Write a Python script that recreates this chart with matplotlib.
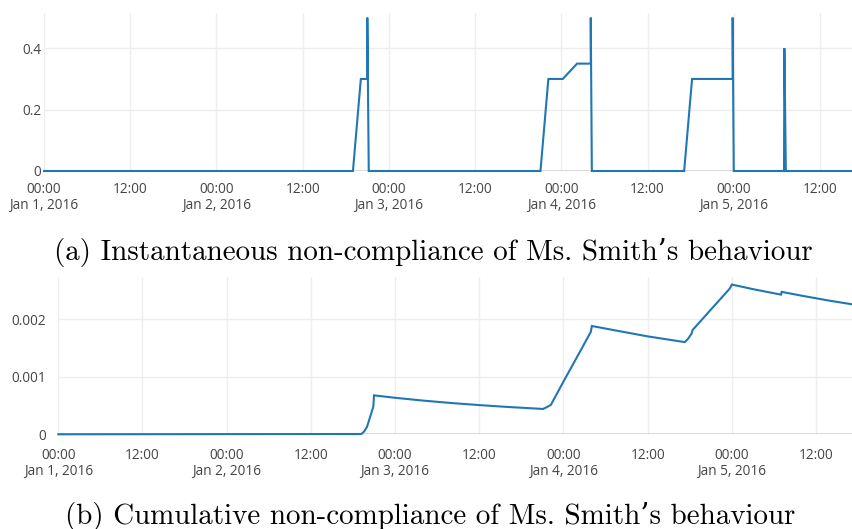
import matplotlib
matplotlib.use("Agg")
import matplotlib.pyplot as plt
import pandas as pd

# ---- data ----
inst_times = ["2016-01-01 00:00", "2016-01-02 19:00", "2016-01-02 20:06", "2016-01-02 21:00",
              "2016-01-02 21:00", "2016-01-02 21:12", "2016-01-03 21:06", "2016-01-03 22:12",
              "2016-01-04 00:12", "2016-01-04 02:12", "2016-01-04 04:06", "2016-01-04 04:06",
              "2016-01-04 04:15", "2016-01-04 17:06", "2016-01-04 18:12", "2016-01-04 23:51",
              "2016-01-04 23:51", "2016-01-05 00:00", "2016-01-05 07:00", "2016-01-05 07:03",
              "2016-01-05 07:15", "2016-01-05 17:30"]
inst_values = [0, 0, 0.3, 0.3, 0.5, 0, 0, 0.3, 0.3, 0.35, 0.35, 0.5, 0, 0, 0.3, 0.3,
               0.5, 0, 0, 0.4, 0, 0]

cum_times = ["2016-01-01 00:00", "2016-01-02 00:00", "2016-01-02 19:12", "2016-01-02 19:36",
             "2016-01-02 20:00", "2016-01-02 20:54", "2016-01-02 21:00", "2016-01-03 00:00",
             "2016-01-03 04:00", "2016-01-03 08:00", "2016-01-03 12:00", "2016-01-03 16:00",
             "2016-01-03 21:06", "2016-01-03 21:36", "2016-01-03 22:12", "2016-01-04 00:12",
             "2016-01-04 02:12", "2016-01-04 03:54", "2016-01-04 04:03", "2016-01-04 08:00",
             "2016-01-04 12:00", "2016-01-04 16:00", "2016-01-04 17:18", "2016-01-04 17:48",
             "2016-01-04 18:16", "2016-01-04 18:24", "2016-01-04 23:42", "2016-01-05 00:00",
             "2016-01-05 03:00", "2016-01-05 07:00", "2016-01-05 07:06", "2016-01-05 10:00",
             "2016-01-05 14:00", "2016-01-05 17:30"]
cum_values = [0, 0.000003, 0.000005, 0.00005, 0.00013, 0.00048, 0.000676, 0.000634,
              0.000585, 0.000543, 0.000507, 0.000475, 0.00044, 0.00047, 0.00051, 0.00096,
              0.0014, 0.00178, 0.00188, 0.00179, 0.0017, 0.001625, 0.0016, 0.001665,
              0.00175, 0.00181, 0.00253, 0.0026, 0.00252, 0.002425, 0.002473, 0.002405,
              0.002318, 0.00225]

x_ticks = ["2016-01-01 00:00", "2016-01-01 12:00", "2016-01-02 00:00", "2016-01-02 12:00",
           "2016-01-03 00:00", "2016-01-03 12:00", "2016-01-04 00:00", "2016-01-04 12:00",
           "2016-01-05 00:00", "2016-01-05 12:00"]
x_tick_labels = ["00:00\nJan 1, 2016", "12:00", "00:00\nJan 2, 2016", "12:00",
                 "00:00\nJan 3, 2016", "12:00", "00:00\nJan 4, 2016", "12:00",
                 "00:00\nJan 5, 2016", "12:00"]
inst_yticks = [0, 0.2, 0.4]
inst_ylabels = ["0", "0.2", "0.4"]
cum_yticks = [0, 0.001, 0.002]
cum_ylabels = ["0", "0.001", "0.002"]

captions = ["(a) Instantaneous non-compliance of Ms. Smith\u2019s behaviour",
            "(b) Cumulative non-compliance of Ms. Smith\u2019s behaviour"]

LINE = "#1f77b4"
GRID = "#eeeeee"
TXT = "#444444"
TICKFS = 9.8

fig = plt.figure(figsize=(8.53, 5.29), dpi=100)
ax1 = fig.add_axes([44 / 853, (529 - 171) / 529, 1 - 44 / 853, (171 - 13) / 529])
ax2 = fig.add_axes([58.3 / 853, (529 - 434.3) / 529, 1 - 58.3 / 853, (434.3 - 276.7) / 529])

def style(ax, times, vals, yt, yl, ylim, xend, ypad, xpad):
    t = pd.to_datetime(times)
    xt = pd.to_datetime(x_ticks)
    for x in xt:
        ax.axvline(x, color=GRID, lw=1, zorder=0)
    for y in yt[1:]:
        ax.axhline(y, color=GRID, lw=1, zorder=0)
    ax.axhline(0, color=TXT, lw=1, zorder=1)
    ax.plot(t, vals, color=LINE, lw=1.5, zorder=3, clip_on=False, solid_joinstyle="miter")
    ax.set_xlim(pd.Timestamp("2016-01-01 00:00"), pd.Timestamp(xend))
    ax.set_ylim(*ylim)
    ax.set_xticks(xt)
    ax.set_xticklabels(x_tick_labels, fontsize=TICKFS, color=TXT, family="Open Sans",
                       linespacing=1.05, va="top")
    ax.set_yticks(yt)
    ax.set_yticklabels(yl, fontsize=TICKFS, color=TXT, family="Open Sans")
    ax.tick_params(axis="x", length=0, pad=xpad)
    ax.tick_params(axis="y", length=0, pad=ypad)
    for s in ax.spines.values():
        s.set_visible(False)
    ax.set_facecolor("none")

style(ax1, inst_times, inst_values, inst_yticks, inst_ylabels, (0, 0.515),
      "2016-01-05 16:36", 2, 8)
style(ax2, cum_times, cum_values, cum_yticks, cum_ylabels, (0, 0.002736),
      "2016-01-05 17:16", 9, 10)

cap_font = dict(family=["cmr10", "DejaVu Serif"], fontsize=20.9, color="black",
                ha="center", va="center")
fig.text(433 / 853, (529 - 252) / 529, captions[0], **cap_font)
fig.text(430 / 853, (529 - 516) / 529, captions[1], **cap_font)

fig.savefig("out.png", dpi=100)
